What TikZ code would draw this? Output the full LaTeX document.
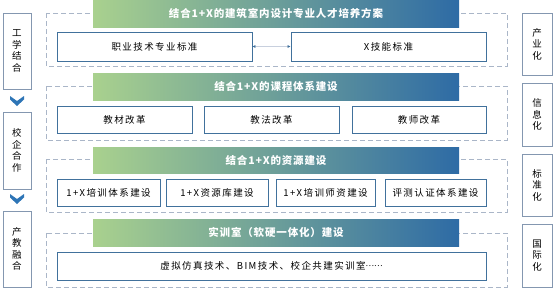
\documentclass[tikz,border=0pt]{standalone}
\usepackage{fontspec}
\usetikzlibrary{arrows.meta}
\newfontfamily\cjk[LetterSpace=15]{Noto Sans CJK SC}
\newfontfamily\cjkh[LetterSpace=8]{Noto Sans CJK SC}
\newfontfamily\cjkplain{Noto Sans CJK SC}
\definecolor{hgreen}{RGB}{169,209,142}
\definecolor{hblue}{RGB}{46,107,165}
\definecolor{bborder}{RGB}{65,113,156}
\definecolor{sideb}{RGB}{132,151,176}
\definecolor{dashc}{RGB}{170,182,200}
\definecolor{chev}{RGB}{46,117,182}
\definecolor{arrline}{RGB}{200,208,222}
\tikzset{
  ibox/.style={draw=bborder, line width=0.8pt, fill=white, inner sep=0pt,
    font=\cjk\fontsize{9.5}{11}\selectfont, text=black},
  sbox/.style={draw=sideb, line width=0.9pt, fill=white, inner sep=0pt,
    font=\cjk\fontsize{9.5}{11.5}\selectfont, align=center, minimum width=28pt},
  hdr/.style={left color=hgreen, right color=hblue, inner sep=0pt,
    minimum width=366pt, text=white, font=\cjkh\bfseries\fontsize{10.5}{12}\selectfont},
  frm/.style={draw=dashc, line width=0.8pt, dash pattern=on 5pt off 3pt},
  chevshape/.style={fill=chev, draw=none}
}
\begin{document}
\begin{tikzpicture}[x=1pt,y=-1pt]
\useasboundingbox (0,0) rectangle (553,289);
% dashed frames
\draw[frm] (46,13) rectangle (507,66);
\draw[frm] (46,86) rectangle (507,140);
\draw[frm] (46,159) rectangle (507,212);
\draw[frm] (46,233) rectangle (507,287);
% headers
\node[hdr, minimum height=27pt] (h1) at (276,13.5) {结合1+X的建筑室内设计专业人才培养方案};
\node[hdr, minimum height=27pt] (h2) at (276,86.5) {结合1+X的课程体系建设};
\node[hdr, minimum height=26pt] (h3) at (276,160) {结合1+X的资源建设};
\node[hdr, minimum height=27pt] (h4) at (276,232.5) {实训室（软硬一体化）建设};
% row 1
\node[ibox, minimum width=195pt, minimum height=29pt] (a1) at (154.5,46.5) {职业技术专业标准};
\node[ibox, minimum width=195pt, minimum height=29pt] (a2) at (388.5,46.5) {X技能标准};
\draw[arrline, line width=0.8pt, {Latex[length=3pt,width=3pt,color=bborder]}-{Latex[length=3pt,width=3pt,color=bborder]}] (a1.east) -- (a2.west);
% row 2
\node[ibox, minimum width=135pt, minimum height=27pt] (b1) at (124.5,119.5) {教材改革};
\node[ibox, minimum width=135pt, minimum height=27pt] (b2) at (271.5,119.5) {教法改革};
\node[ibox, minimum width=134pt, minimum height=27pt] (b3) at (419,119.5) {教师改革};
% row 3
\node[ibox, minimum width=103pt, minimum height=27pt] (c1) at (108.5,192.5) {1+X培训体系建设};
\node[ibox, minimum width=102pt, minimum height=27pt] (c2) at (217,192.5) {1+X资源库建设};
\node[ibox, minimum width=99pt, minimum height=27pt] (c3) at (325.5,192.5) {1+X培训师资建设};
\node[ibox, minimum width=101pt, minimum height=27pt] (c4) at (435.5,192.5) {评测认证体系建设};
% row 4
\node[ibox, minimum width=429pt, minimum height=28pt] (d1) at (271.5,266) {虚拟仿真技术、BIM技术、校企共建实训室\raisebox{0.3em}{\cjkplain\fontsize{8}{10}\selectfont ……}};
% left column
\node[sbox, minimum height=76pt] (l1) at (17,51) {工\\学\\结\\合};
\node[sbox, minimum height=77pt] (l2) at (17,150.5) {校\\企\\合\\作};
\node[sbox, minimum height=76pt] (l3) at (17,249) {产\\教\\融\\合};
\fill[chevshape] (10,96) -- (17,101) -- (24,96) -- (24,99.5) -- (17,106) -- (10,99.5) -- cycle;
\fill[chevshape] (10,194) -- (17,199) -- (24,194) -- (24,197.5) -- (17,204) -- (10,197.5) -- cycle;
% right column
\node[sbox, minimum width=30pt, minimum height=62pt] (r1) at (537,44) {产\\业\\化};
\node[sbox, minimum width=30pt, minimum height=63pt] (r2) at (537,114.5) {信\\息\\化};
\node[sbox, minimum width=30pt, minimum height=62pt] (r3) at (537,185) {标\\准\\化};
\node[sbox, minimum width=30pt, minimum height=63pt] (r4) at (537,255.5) {国\\际\\化};
\end{tikzpicture}
\end{document}
